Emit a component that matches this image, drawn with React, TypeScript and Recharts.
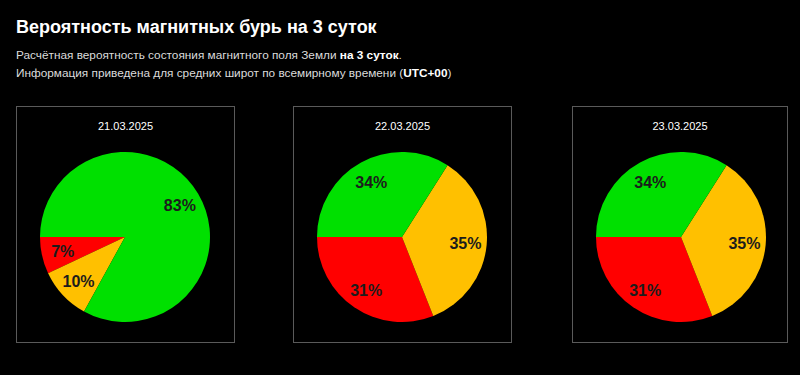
import React from 'react';
import { PieChart, Pie, Cell } from 'recharts';

const dates = ['21.03.2025', '22.03.2025', '23.03.2025'];
const categories = ['red', 'yellow', 'green'];
const colors = ['#ff0000', '#ffc000', '#00e000'];
const day1 = [7, 10, 83];
const day2 = [31, 35, 34];
const day3 = [31, 35, 34];
const series = [day1, day2, day3];

const FONT = '"Liberation Sans", Arial, sans-serif';
const RADIAN = Math.PI / 180;

const panelLefts = [16, 293, 572];
const panelWidths = [219, 219, 216];
const PANEL_TOP = 106;
const PANEL_H = 237;

const renderLabel = (props: any) => {
  const { cx, cy, midAngle, outerRadius, value } = props;
  const r = outerRadius * 0.75;
  const x = cx + r * Math.cos(-midAngle * RADIAN);
  const y = cy + r * Math.sin(-midAngle * RADIAN);
  return (
    <text
      x={x}
      y={y + 1}
      fill="#1c1c1c"
      textAnchor="middle"
      dominantBaseline="central"
      fontFamily={FONT}
      fontWeight="bold"
      fontSize={16}
    >
      {`${value}%`}
    </text>
  );
};

export default function App() {
  return (
    <div
      style={{
        position: 'absolute',
        left: 0,
        top: 0,
        width: 800,
        height: 375,
        background: '#000',
        fontFamily: FONT,
        overflow: 'hidden',
      }}
    >
      <div style={{ position: 'absolute', left: 16, top: 17, color: '#fff', fontSize: 18, fontWeight: 'bold', whiteSpace: 'nowrap' }}>
        Вероятность магнитных бурь на 3 суток
      </div>
      <div style={{ position: 'absolute', left: 16, top: 48, color: '#dcdcdc', fontSize: 11.8, whiteSpace: 'nowrap' }}>
        Расчётная вероятность состояния магнитного поля Земли <b style={{ color: '#fff' }}>на 3 суток</b>.
      </div>
      <div style={{ position: 'absolute', left: 16, top: 66, color: '#dcdcdc', fontSize: 11.8, whiteSpace: 'nowrap' }}>
        Информация приведена для средних широт по всемирному времени (<b style={{ color: '#fff' }}>UTC+00</b>)
      </div>
      {panelLefts.map((left, i) => (
        <div
          key={i}
          style={{
            position: 'absolute',
            left,
            top: PANEL_TOP,
            width: panelWidths[i],
            height: PANEL_H,
            boxSizing: 'border-box',
            border: '1px solid #5a5a5a',
          }}
        >
          <div
            style={{
              position: 'absolute',
              left: 0,
              width: '100%',
              top: 13,
              textAlign: 'center',
              color: '#fff',
              fontSize: 11,
            }}
          >
            {dates[i]}
          </div>
        </div>
      ))}
      <div style={{ position: 'absolute', left: 0, top: 0 }}>
        <PieChart width={800} height={375} margin={{ top: 0, right: 0, bottom: 0, left: 0 }}>
          {series.map((vals, i) => (
            <Pie
              key={i}
              data={categories.map((c, j) => ({ name: c, value: vals[j] }))}
              dataKey="value"
              nameKey="name"
              cx={panelLefts[i] + 109}
              cy={237}
              outerRadius={85}
              startAngle={180}
              endAngle={540}
              stroke="none"
              isAnimationActive={false}
              labelLine={false}
              label={renderLabel}
            >
              {categories.map((c, j) => (
                <Cell key={c} fill={colors[j]} />
              ))}
            </Pie>
          ))}
        </PieChart>
      </div>
    </div>
  );
}
